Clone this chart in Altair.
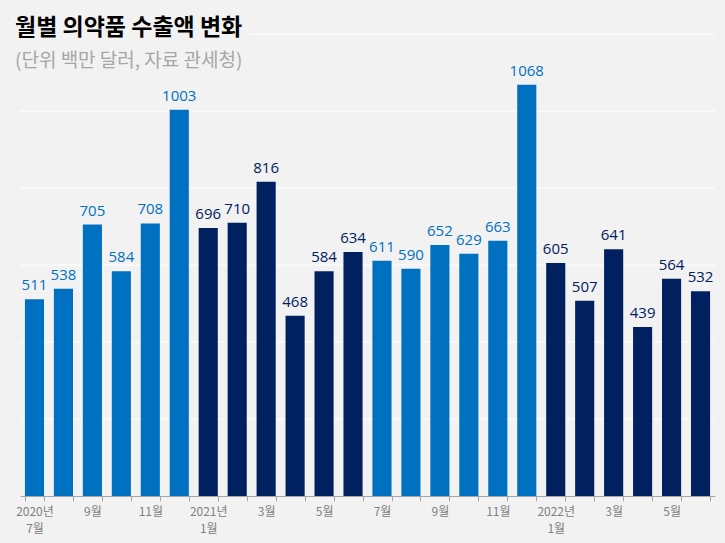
import altair as alt
import pandas as pd

# Monthly pharmaceutical exports, Jul 2020 - Jun 2022 (USD millions)
months = ["2020-07", "2020-08", "2020-09", "2020-10", "2020-11", "2020-12",
          "2021-01", "2021-02", "2021-03", "2021-04", "2021-05", "2021-06",
          "2021-07", "2021-08", "2021-09", "2021-10", "2021-11", "2021-12",
          "2022-01", "2022-02", "2022-03", "2022-04", "2022-05", "2022-06"]
values = [511, 538, 705, 584, 708, 1003, 696, 710, 816, 468, 584, 634,
          611, 590, 652, 629, 663, 1068, 605, 507, 641, 439, 564, 532]
half = ["H2", "H2", "H2", "H2", "H2", "H2", "H1", "H1", "H1", "H1", "H1", "H1",
        "H2", "H2", "H2", "H2", "H2", "H2", "H1", "H1", "H1", "H1", "H1", "H1"]
tick_labels = ["2020년\n7월", "", "9월", "", "11월", "", "2021년\n1월", "", "3월", "", "5월", "",
               "7월", "", "9월", "", "11월", "", "2022년\n1월", "", "3월", "", "5월", ""]
grid_values = [200, 400, 600, 800, 1000, 1200]

df = pd.DataFrame({"month": months, "value": values, "half": half})
grid_df = pd.DataFrame({"g": grid_values})

label_map = "{" + ",".join(f"'{m}':'{t}'" for m, t in zip(months, tick_labels)).replace("\n", "\\n") + "}"

FONT = "Open Sans"
KFONT = "Noto Sans CJK KR"
BG = "#f2f2f2"

bar_colors = alt.Scale(domain=["H2", "H1"], range=["#0070c0", "#002060"])
text_colors = alt.Scale(domain=["H2", "H1"], range=["#2e75b6", "#1f2a4d"])

x_enc = alt.X("month:N", sort=months,
              scale=alt.Scale(paddingInner=0.34, paddingOuter=0.17),
              axis=alt.Axis(title=None, labelAngle=0, tickBand="extent",
                            labelExpr=f"split({label_map}[datum.value] || '', '\\n')",
                            labelFont=KFONT, labelFontSize=12, labelColor="#808080",
                            labelLineHeight=17, labelPadding=5,
                            domainColor="#a6a6a6", tickColor="#a6a6a6", tickSize=5,
                            grid=False))
y_scale = alt.Scale(domain=[0, 1200])

grid = alt.Chart(grid_df).mark_rule(color="white", strokeWidth=1).encode(
    y=alt.Y("g:Q", scale=y_scale, axis=None)
)
# keep the top line clear of the headline
grid_cover = alt.Chart(grid_df).transform_filter("datum.g == 1200").mark_rule(
    color=BG, strokeWidth=3).encode(
    y=alt.Y("g:Q", scale=y_scale, axis=None),
    x=alt.value(-20), x2=alt.value(230)
)

bars = alt.Chart(df).mark_bar().encode(
    x=x_enc,
    y=alt.Y("value:Q", scale=y_scale, axis=None),
    color=alt.Color("half:N", scale=bar_colors, legend=None)
)

labels = alt.Chart(df).mark_text(baseline="bottom", dy=-6, font=FONT, fontSize=15).encode(
    x=alt.X("month:N", sort=months),
    y=alt.Y("value:Q", scale=y_scale),
    text=alt.Text("value:Q"),
    color=alt.Color("half:N", scale=text_colors, legend=None)
)

chart = alt.layer(grid, grid_cover, bars, labels).properties(
    width=695, height=462,
    background=BG,
    padding={"left": 20, "top": 34, "right": 10, "bottom": 47},
    autosize=alt.AutoSizeParams(type="none"),
    title=alt.TitleParams(
        "월별 의약품 수출액 변화",
        subtitle="(단위 백만 달러, 자료 관세청)",
        anchor="start", frame="group", orient="top",
        font=KFONT, fontSize=23, fontWeight="bold", color="#000000",
        subtitleFont=KFONT, subtitleFontSize=19, subtitleColor="#a6a6a6",
        subtitlePadding=12, dx=-5, offset=0, dy=38
    )
).configure_view(stroke=None)

chart.save("out.html", embed_options={"renderer": "svg", "actions": False})
